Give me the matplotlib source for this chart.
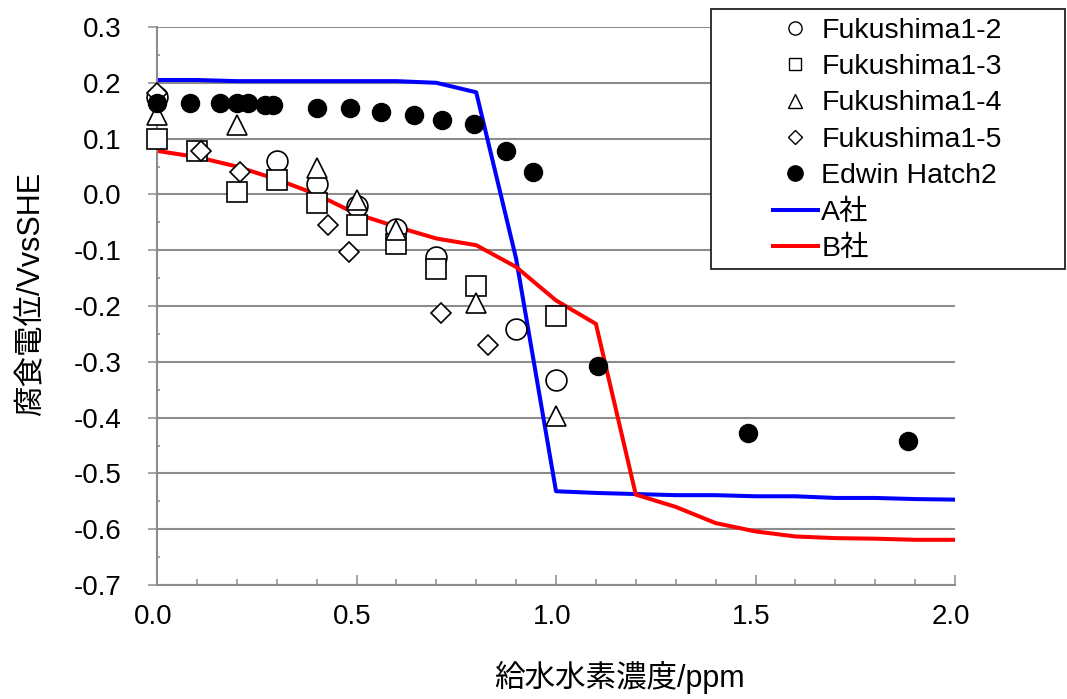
import matplotlib
matplotlib.use("Agg")
import matplotlib.pyplot as plt
from matplotlib.lines import Line2D
from matplotlib.patches import Rectangle
from matplotlib.ticker import FixedLocator, FixedFormatter, MultipleLocator
from matplotlib.font_manager import FontProperties
from matplotlib.transforms import ScaledTranslation

plt.rcParams['font.family'] = ['Liberation Sans', 'Noto Sans CJK JP', 'DejaVu Sans']
plt.rcParams['axes.unicode_minus'] = False

# ---- measured corrosion potentials (V vs SHE) against feedwater H2 (ppm) ----
f12_x = [0.0, 0.3, 0.4, 0.5, 0.6, 0.7, 0.9, 1.0]
f12_y = [0.174, 0.059, 0.019, -0.020, -0.062, -0.113, -0.242, -0.333]

f13_x = [0.0, 0.1, 0.2, 0.3, 0.4, 0.5, 0.6, 0.7, 0.8, 1.0]
f13_y = [0.099, 0.078, 0.004, 0.025, -0.016, -0.054, -0.089, -0.134, -0.165, -0.218]

f14_x = [0.0, 0.2, 0.4, 0.5, 0.6, 0.8, 1.0]
f14_y = [0.142, 0.124, 0.047, -0.010, -0.064, -0.194, -0.398]

f15_x = [0.0, 0.11, 0.208, 0.428, 0.481, 0.711, 0.83]
f15_y = [0.182, 0.078, 0.040, -0.054, -0.104, -0.213, -0.269]

eh_x = [0.0, 0.083, 0.158, 0.2, 0.229, 0.27, 0.29, 0.4, 0.484, 0.561, 0.644,
        0.714, 0.794, 0.875, 0.942, 1.106, 1.48, 1.881]
eh_y = [0.164, 0.163, 0.163, 0.163, 0.163, 0.160, 0.160, 0.154, 0.154, 0.148,
        0.142, 0.133, 0.127, 0.078, 0.040, -0.307, -0.427, -0.442]

# ---- model predictions ----
model_x = [0.0, 0.1, 0.2, 0.3, 0.4, 0.5, 0.6, 0.7, 0.8, 0.9, 1.0,
           1.1, 1.2, 1.3, 1.4, 1.5, 1.6, 1.7, 1.8, 1.9, 2.0]
a_y = [0.205, 0.205, 0.203, 0.203, 0.203, 0.203, 0.203, 0.200, 0.183, -0.115, -0.532,
       -0.535, -0.537, -0.539, -0.539, -0.541, -0.541, -0.544, -0.544, -0.546, -0.547]
b_y = [0.078, 0.067, 0.050, 0.027, 0.000, -0.035, -0.058, -0.079, -0.091, -0.130, -0.190,
       -0.232, -0.538, -0.560, -0.589, -0.604, -0.613, -0.616, -0.617, -0.619, -0.619]

# ---- axis ticks and labels ----
x_ticks = [0.0, 0.5, 1.0, 1.5, 2.0]
x_tick_labels = ['0.0', '0.5', '1.0', '1.5', '2.0']
y_ticks = [-0.7, -0.6, -0.5, -0.4, -0.3, -0.2, -0.1, 0.0, 0.1, 0.2, 0.3]
y_tick_labels = ['-0.7', '-0.6', '-0.5', '-0.4', '-0.3', '-0.2', '-0.1',
                 '0.0', '0.1', '0.2', '0.3']

x_label = '給水水素濃度/ppm'
y_label = '腐食電位/VvsSHE'
series_labels = ['Fukushima1-2', 'Fukushima1-3', 'Fukushima1-4',
                 'Fukushima1-5', 'Edwin Hatch2', 'A社', 'B社']

W, H = 1067, 699
fig = plt.figure(figsize=(W / 100, H / 100), dpi=100)
ax = fig.add_axes([157 / W, 1 - 585 / H, (955 - 157) / W, (585 - 27) / H])

GRAY = '#8c8c8c'
BLUE = '#0000ff'
RED = '#ff0000'

ax.plot(model_x, a_y, color=BLUE, lw=2.9, zorder=2)
ax.plot(model_x, b_y, color=RED, lw=2.9, zorder=2.1)

mk = dict(ls='none', mfc='white', mec='black', mew=1.2, clip_on=False)
ax.plot(f12_x, f12_y, marker='o', ms=15, zorder=3, **mk)
ax.plot(f13_x, f13_y, marker='s', ms=14, zorder=4, **mk)
ax.plot(f14_x, f14_y, marker='^', ms=15, zorder=5, **mk)
ax.plot(f15_x, f15_y, marker='D', ms=10.5, zorder=6, **mk)
ax.plot(eh_x, eh_y, ls='none', marker='o', ms=13, mfc='black', mec='black',
        clip_on=False, zorder=7)

ax.set_xlim(0, 2)
ax.set_ylim(-0.7, 0.3)

tick_font = FontProperties(family=['Liberation Sans', 'DejaVu Sans'], size=20)
ax.xaxis.set_major_locator(FixedLocator(x_ticks))
ax.xaxis.set_major_formatter(FixedFormatter(x_tick_labels))
ax.xaxis.set_minor_locator(MultipleLocator(0.1))
ax.yaxis.set_major_locator(FixedLocator(y_ticks))
ax.yaxis.set_major_formatter(FixedFormatter(y_tick_labels))
ax.yaxis.set_minor_locator(MultipleLocator(0.05))

ax.tick_params(axis='x', which='major', direction='in', length=7, width=1.1,
               color=GRAY, pad=14)
ax.tick_params(axis='x', which='minor', direction='in', length=4.5, width=1.1,
               color=GRAY)
ax.tick_params(axis='y', which='major', direction='out', length=6.5, width=1.1,
               color=GRAY, pad=19)
ax.tick_params(axis='y', which='minor', direction='in', length=2.3, width=1.1,
               color=GRAY)
for lab in ax.get_xticklabels() + ax.get_yticklabels():
    lab.set_fontproperties(tick_font)
shift = ScaledTranslation(-4 / 100, 0, fig.dpi_scale_trans)
for lab in ax.get_xticklabels():
    lab.set_transform(lab.get_transform() + shift)

ax.yaxis.grid(True, which='major', color=GRAY, lw=1.5, zorder=0)
ax.set_axisbelow(True)
for side in ('top', 'right'):
    ax.spines[side].set_visible(False)
for side in ('left', 'bottom'):
    ax.spines[side].set_color(GRAY)
    ax.spines[side].set_linewidth(1.5)

label_font = dict(family=['Liberation Sans', 'Noto Sans CJK JP'], size=22)
fig.text(620 / W, 1 - 677 / H, x_label, ha='center', va='center', **label_font)
fig.text(31 / W, 1 - 294 / H, y_label, ha='center', va='center',
         rotation=90, **label_font)

# legend box and entries
fig.patches.append(Rectangle((711 / W, 1 - 269 / H), (1065 - 711) / W, 260 / H,
                             transform=fig.transFigure, facecolor='white',
                             edgecolor='#222222', lw=1.3, zorder=4))
lmk = dict(ls='none', mfc='white', mec='black', mew=1.0)
handles = [
    Line2D([], [], marker='o', ms=9.5, **lmk),
    Line2D([], [], marker='s', ms=9.0, **lmk),
    Line2D([], [], marker='^', ms=9.5, **lmk),
    Line2D([], [], marker='D', ms=7.0, **lmk),
    Line2D([], [], ls='none', marker='o', ms=11, mfc='black', mec='black'),
    Line2D([], [], color=BLUE, lw=2.9),
    Line2D([], [], color=RED, lw=2.9),
]
leg = fig.legend(handles, series_labels, loc='upper left',
                 bbox_to_anchor=(773 / W, 1 - 18 / H), frameon=False,
                 borderpad=0, borderaxespad=0, handlelength=1.58,
                 handletextpad=0.12, labelspacing=0.36,
                 prop=FontProperties(family=['Liberation Sans', 'Noto Sans CJK JP'],
                                     size=20.5))
leg.set_zorder(5)

fig.savefig('out.png', dpi=100)
